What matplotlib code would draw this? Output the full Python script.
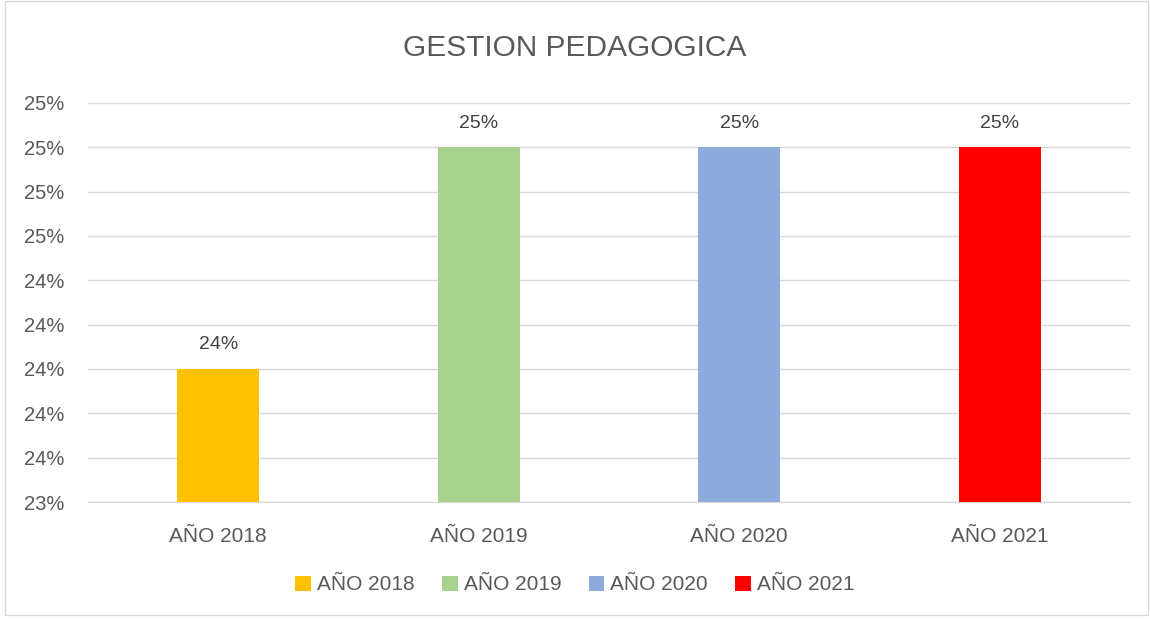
import matplotlib.pyplot as plt
from matplotlib.patches import Patch, Rectangle
from matplotlib.ticker import PercentFormatter, MultipleLocator

# data
years = ["AÑO 2018", "AÑO 2019", "AÑO 2020", "AÑO 2021"]
values = [0.24, 0.25, 0.25, 0.25]
colors = ["#FFC000", "#A9D18E", "#8FAADC", "#FF0000"]

TXT = "#595959"
plt.rcParams["font.family"] = ["Liberation Sans", "DejaVu Sans"]

fig = plt.figure(figsize=(11.5, 6.19), dpi=100)
fig.patch.set_facecolor("white")
ax = fig.add_axes([88 / 1150, 1 - 502 / 619, 1042 / 1150, 399 / 619])

x = range(len(years))
ax.bar(x, values, width=0.315, color=colors, zorder=3)
for i, v in enumerate(values):
    ax.text(i, v + 0.0007, f"{v:.0%}", ha="center", va="bottom",
            fontsize=14, color="#404040")

ax.set_ylim(0.234, 0.252)
ax.set_xlim(-0.5, 3.5)
ax.yaxis.set_major_locator(MultipleLocator(0.002))
ax.yaxis.set_major_formatter(PercentFormatter(xmax=1, decimals=0))
ax.set_xticks(list(x))
ax.set_xticklabels(years)
ax.tick_params(axis="y", length=0, labelsize=14.5, colors=TXT, pad=17)
ax.tick_params(axis="x", length=0, labelsize=15, colors=TXT, pad=18)
ax.grid(axis="y", color="#D9D9D9", linewidth=1, zorder=0)
for s in ["top", "right", "left"]:
    ax.spines[s].set_visible(False)
ax.spines["bottom"].set_color("#D9D9D9")

fig.text(0.5, 1 - 48 / 619, "GESTION PEDAGOGICA", ha="center", va="center",
         fontsize=21.5, color=TXT)

handles = [Patch(facecolor=c, label=y) for c, y in zip(colors, years)]
fig.legend(handles=handles, loc="center", bbox_to_anchor=(0.5, 1 - 585 / 619),
           ncol=4, frameon=False, fontsize=15, handlelength=0.75, handleheight=0.75,
           handletextpad=0.3, columnspacing=1.3, labelcolor=TXT)

fig.add_artist(Rectangle((5 / 1150, 4 / 619), 1143 / 1150, 614 / 619,
                         transform=fig.transFigure, fill=False,
                         edgecolor="#D9D9D9", linewidth=1))

fig.savefig("out.png", dpi=100)
